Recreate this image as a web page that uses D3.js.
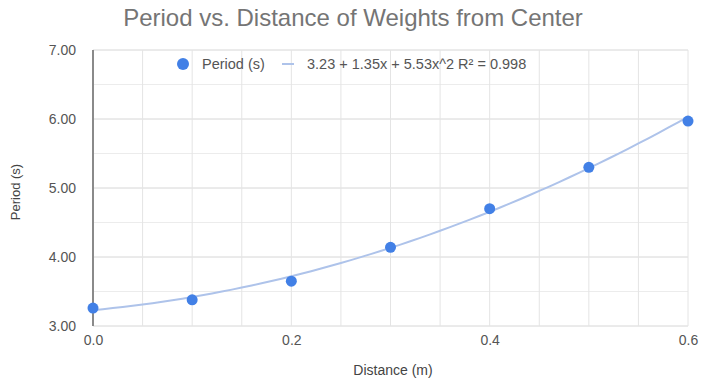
<!DOCTYPE html>
<html>
<head>
<meta charset="utf-8">
<script src="https://cdn.jsdelivr.net/npm/d3@7"></script>
<style>
  body { margin: 0; background: #fff; }
  text { font-family: "Liberation Sans", Arial, sans-serif; }
</style>
</head>
<body>
<div class="chart"></div>
<script>
// data
var distance = [0.0, 0.1, 0.2, 0.3, 0.4, 0.5, 0.6];
var period = [3.26, 3.38, 3.65, 4.14, 4.70, 5.30, 5.97];
// trendline coefficients as printed in the legend (c0 + c1 x + c2 x^2)
var trendCoef = [3.23, 1.35, 5.53];
var trendLabel = "3.23 + 1.35x + 5.53x^2 R\u00B2 = 0.998";
var seriesLabel = "Period (s)";
var yTicks = [3, 4, 5, 6, 7];
var yMinor = [3.5, 4.5, 5.5, 6.5];
var xTicks = [0, 0.2, 0.4, 0.6];
var xGrid = [0.05, 0.1, 0.15, 0.2, 0.25, 0.3, 0.35, 0.4, 0.45, 0.5, 0.55, 0.6];

var width = 713, height = 383;
var margin = { top: 50, left: 93, right: 25, bottom: 57 };
var w = width - margin.left - margin.right,
    h = height - margin.top - margin.bottom;

var svg = d3.select(".chart").append("svg")
    .attr("width", width)
    .attr("height", height);

var x = d3.scaleLinear().domain([0, 0.6]).range([0, w]);
var y = d3.scaleLinear().domain([3, 7]).range([h, 0]);

var g = svg.append("g")
    .attr("transform", "translate(" + margin.left + "," + margin.top + ")");

// gridlines
g.selectAll(".ygrid").data(yMinor.concat(yTicks)).enter().append("line")
    .attr("x1", 0).attr("x2", w)
    .attr("y1", function(d) { return y(d); })
    .attr("y2", function(d) { return y(d); })
    .attr("stroke", function(d) { return d % 1 === 0 ? "#d6d6d6" : "#ececec"; })
    .attr("stroke-width", 1);
g.selectAll(".xgrid").data(xGrid).enter().append("line")
    .attr("y1", 0).attr("y2", h)
    .attr("x1", function(d) { return x(d); })
    .attr("x2", function(d) { return x(d); })
    .attr("stroke", "#e4e4e4")
    .attr("stroke-width", 1);

// x = 0 baseline
g.append("line")
    .attr("x1", x(0)).attr("x2", x(0))
    .attr("y1", 0).attr("y2", h)
    .attr("stroke", "#8a8a8a")
    .attr("stroke-width", 2);

// axes (labels only)
var yAxis = d3.axisLeft(y).tickValues(yTicks).tickFormat(d3.format(".2f")).tickSize(0).tickPadding(17);
var xAxis = d3.axisBottom(x).tickValues(xTicks).tickFormat(d3.format(".1f")).tickSize(0).tickPadding(9);
var ya = g.append("g").call(yAxis);
var xa = g.append("g").attr("transform", "translate(0," + h + ")").call(xAxis);
[ya, xa].forEach(function(a) {
  a.select(".domain").remove();
  a.selectAll("text").attr("fill", "#555").style("font-size", "14px");
});

// trendline
var trend = function(v) { return trendCoef[0] + trendCoef[1] * v + trendCoef[2] * v * v; };
var line = d3.line()
    .x(function(d) { return x(d); })
    .y(function(d) { return y(trend(d)); });
g.append("path")
    .datum(d3.range(0, 0.6001, 0.01))
    .attr("d", line)
    .attr("fill", "none")
    .attr("stroke", "#aec3ea")
    .attr("stroke-width", 2);

// points
g.selectAll(".pt").data(distance).enter().append("circle")
    .attr("cx", function(d) { return x(d); })
    .attr("cy", function(d, i) { return y(period[i]); })
    .attr("r", 5.5)
    .attr("fill", "#4280e6");

// title
svg.append("text")
    .attr("x", 353).attr("y", 26)
    .attr("text-anchor", "middle")
    .attr("fill", "#757575")
    .style("font-size", "24px")
    .text("Period vs. Distance of Weights from Center");

// legend
var lg = svg.append("g").attr("transform", "translate(183,64)");
lg.append("circle").attr("cx", 0).attr("cy", 0).attr("r", 6).attr("fill", "#4280e6");
lg.append("text").attr("x", 19).attr("y", 5).attr("fill", "#555")
    .style("font-size", "14.5px").text(seriesLabel);
lg.append("line").attr("x1", 99).attr("x2", 111).attr("y1", 0).attr("y2", 0)
    .attr("stroke", "#aec3ea").attr("stroke-width", 2);
lg.append("text").attr("x", 124).attr("y", 5).attr("fill", "#555")
    .style("font-size", "14.5px").text(trendLabel);

// axis titles
svg.append("text")
    .attr("x", 393).attr("y", 375)
    .attr("text-anchor", "middle")
    .attr("fill", "#444")
    .style("font-size", "14px")
    .text("Distance (m)");
svg.append("text")
    .attr("transform", "translate(20,192) rotate(-90)")
    .attr("text-anchor", "middle")
    .attr("fill", "#444")
    .style("font-size", "13px")
    .text("Period (s)");
</script>
</body>
</html>
